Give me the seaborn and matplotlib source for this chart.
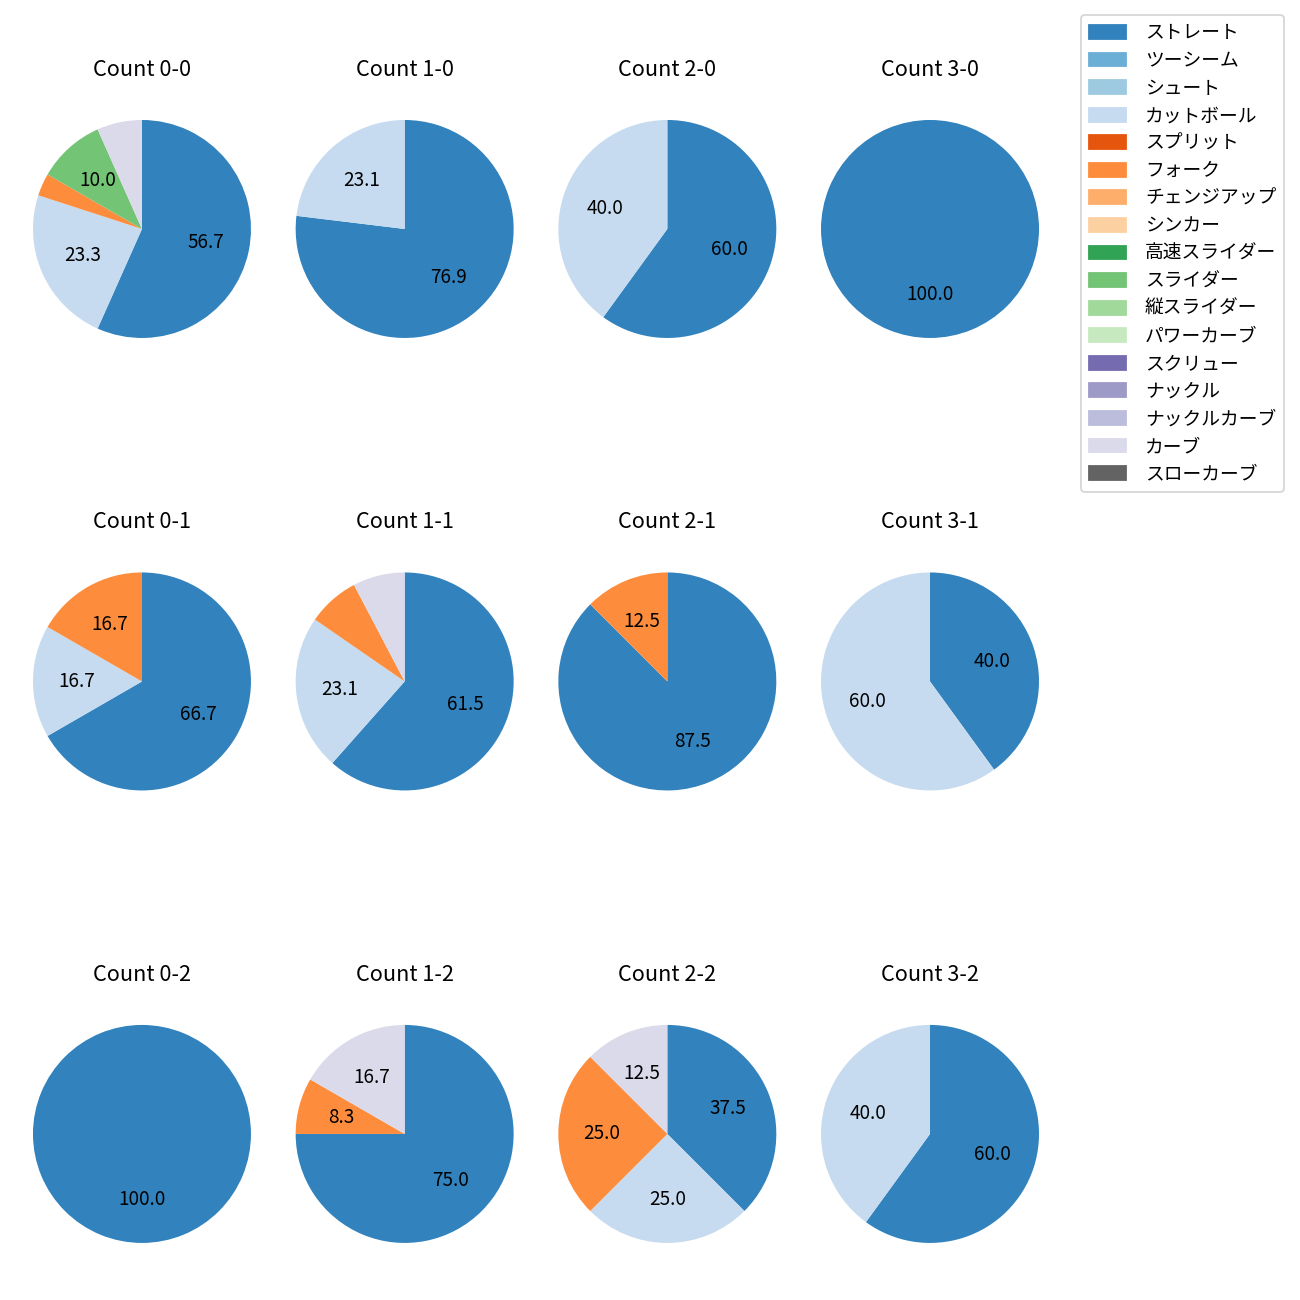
import numpy as np
import matplotlib
matplotlib.use("Agg")
import matplotlib.pyplot as plt
import matplotlib.patches as mpatches
import seaborn as sns

plt.rcParams['font.family'] = ['Noto Sans CJK JP', 'DejaVu Sans']

pitch_types = ['ストレート', 'ツーシーム', 'シュート', 'カットボール', 'スプリット', 'フォーク',
               'チェンジアップ', 'シンカー', '高速スライダー', 'スライダー', '縦スライダー',
               'パワーカーブ', 'スクリュー', 'ナックル', 'ナックルカーブ', 'カーブ', 'スローカーブ']

# ball-strike counts, row = strikes, column = balls
count_labels = ['0-0', '1-0', '2-0', '3-0',
                '0-1', '1-1', '2-1', '3-1',
                '0-2', '1-2', '2-2', '3-2']

# number of pitches per count (same order as count_labels)
straight = [17, 10, 3, 1, 4, 8, 7, 2, 1, 9, 3, 3]
cutball  = [7, 3, 2, 0, 1, 3, 0, 3, 0, 0, 2, 2]
fork     = [1, 0, 0, 0, 1, 1, 1, 0, 0, 1, 2, 0]
slider   = [3, 0, 0, 0, 0, 0, 0, 0, 0, 0, 0, 0]
curve    = [2, 0, 0, 0, 0, 1, 0, 0, 0, 2, 1, 0]

pitch_counts = {'ストレート': straight, 'カットボール': cutball, 'フォーク': fork,
                'スライダー': slider, 'カーブ': curve}

colors = sns.color_palette('tab20c', 20)[:len(pitch_types)]
color_map = dict(zip(pitch_types, colors))


def autopct(p):
    return '{:.1f}'.format(p) if p >= 8 else ''


fig, axes = plt.subplots(nrows=3, ncols=4, figsize=(10, 10), dpi=130)
fig.subplots_adjust(left=0.0044, right=0.8202, top=0.9287, bottom=0.0229,
                    wspace=-0.036, hspace=0.66)

for k, label in enumerate(count_labels):
    ax = axes[k // 4, k % 4]
    vals = []
    cols = []
    for p in pitch_types:
        if p in pitch_counts and pitch_counts[p][k] > 0:
            vals.append(pitch_counts[p][k])
            cols.append(color_map[p])
    ax.pie(vals, colors=cols, startangle=90, counterclock=False,
           autopct=autopct, textprops={'fontsize': 10.5})
    ax.set_title('Count ' + label, fontsize=12, pad=9.5)

handles = [mpatches.Patch(color=color_map[p], label=p) for p in pitch_types]
fig.legend(handles=handles, loc='upper right', bbox_to_anchor=(0.9875, 0.9885),
           borderaxespad=0, fontsize=10.4, handletextpad=1.0, labelspacing=0.35,
           handleheight=0.75)

fig.savefig('out.png', dpi=130)
